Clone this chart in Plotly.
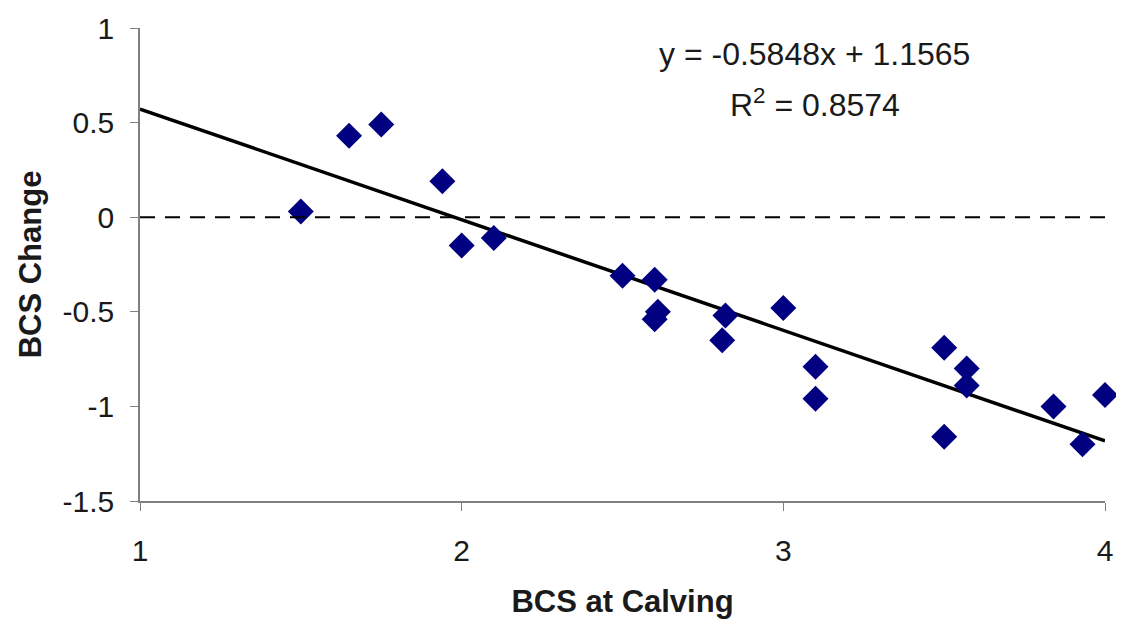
import plotly.graph_objects as go

bcs_calving = [1.50, 1.65, 1.75, 1.94, 2.00, 2.10, 2.50, 2.60, 2.61, 2.60, 2.82, 2.81,
               3.00, 3.10, 3.10, 3.50, 3.50, 3.57, 3.57, 3.84, 3.93, 4.00]
bcs_change = [0.03, 0.43, 0.49, 0.19, -0.15, -0.11, -0.31, -0.33, -0.50, -0.54, -0.52, -0.65,
              -0.48, -0.79, -0.96, -0.69, -1.16, -0.80, -0.89, -1.00, -1.20, -0.94]

slope = -0.5848
intercept = 1.1565
r2 = 0.8574
trend_x = [1, 4]
trend_y = [slope * x + intercept for x in trend_x]

x_ticks = [1, 2, 3, 4]
y_ticks = [1, 0.5, 0, -0.5, -1, -1.5]
y_ticktext = ["1", "0.5", "0", "-0.5", "-1", "-1.5"]

font_family = "Arial, Liberation Sans, sans-serif"
text_color = "#1a1a1a"

fig = go.Figure()
fig.add_trace(go.Scatter(x=trend_x, y=trend_y, mode="lines",
                         line=dict(color="black", width=3.5), showlegend=False,
                         cliponaxis=False))
fig.add_trace(go.Scatter(x=bcs_calving, y=bcs_change, mode="markers",
                         marker=dict(symbol="diamond", size=20, color="#000080"),
                         showlegend=False, cliponaxis=False))

fig.add_shape(type="line", x0=1, x1=4, y0=0, y1=0, xref="x", yref="y",
              line=dict(color="black", width=2, dash="15px,10px"))

fig.add_annotation(x=3.097, y=0.861, xref="x", yref="y", xanchor="center", showarrow=False,
                   text=f"y = {slope}x + {intercept}",
                   font=dict(size=32, color=text_color, family=font_family))
fig.add_annotation(x=3.097, y=0.603, xref="x", yref="y", xanchor="center", showarrow=False,
                   text=f"R<sup>2</sup> = {r2}",
                   font=dict(size=32, color=text_color, family=font_family))

fig.update_layout(
    width=1108, height=611,
    margin=dict(l=132, r=3, t=15, b=111),
    plot_bgcolor="white", paper_bgcolor="white",
    font=dict(family=font_family, size=30, color=text_color),
    xaxis=dict(range=[1, 4], tickvals=x_ticks, ticktext=[str(v) for v in x_ticks],
               showgrid=False, zeroline=False, showline=True, linecolor="#808080",
               linewidth=1.5, ticks="outside", ticklen=8, tickcolor="#808080",
               ticklabelstandoff=14, ticklabeloverflow="allow",
               title=dict(text="<b>BCS at Calving</b>", font=dict(size=31), standoff=28)),
    yaxis=dict(range=[-1.5, 1], tickvals=y_ticks, ticktext=y_ticktext,
               showgrid=False, zeroline=False, showline=True, linecolor="#808080",
               linewidth=1.5, ticks="outside", ticklen=8, tickcolor="#808080",
               ticklabelstandoff=10, ticklabeloverflow="allow",
               title=dict(text="<b>BCS Change</b>", font=dict(size=31), standoff=12)),
)

fig.write_html("out.html", config={"displayModeBar": False})
